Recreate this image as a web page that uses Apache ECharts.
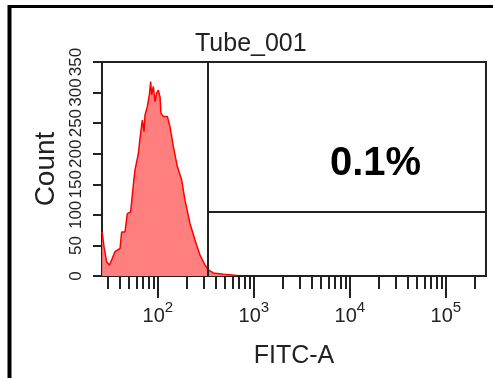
<!DOCTYPE html>
<html>
<head>
<meta charset="utf-8">
<script src="https://cdn.jsdelivr.net/npm/echarts@6/dist/echarts.min.js"></script>
<style>
  html, body { margin: 0; padding: 0; background: #fff; }
  #chart { width: 493px; height: 378px; }
</style>
</head>
<body>
<div id="chart"></div>
<script>
// histogram outline: FITC-A channel value -> count
const fitcValues = [26.3, 27.5, 29.3, 31.3, 33.0, 35.8, 40.4, 42.0, 45.5, 48.1, 52.1, 55.6, 57.8, 62.7,
  65.2, 69.0, 71.8, 73.5, 77.7, 81.6, 84.2, 86.3, 89.8, 93.5, 97.3, 101.2, 105.4, 107.9, 114.1,
  125.6, 133.9, 145.0, 159.7, 177.2, 191.9, 216.3, 243.9, 275.0, 310.0, 335.9, 378.6, 481.5, 670];
const counts = [72, 48, 23, 18, 26, 40, 45, 72, 72, 102, 105, 149, 173, 200,
  225, 255, 236, 263, 277, 296, 318, 296, 310, 285, 299, 304, 293, 266, 261,
  261, 244, 212, 179, 157, 124, 86, 59, 34, 18, 10, 5, 3, 1];

// axis ranges and ticks
const xRange = [26.2144, 262144];
const yRange = [0, 350];
const yStep = 50;
const majorTicks = [100, 1000, 10000, 100000];
const minorTicks = [30, 40, 50, 60, 70, 80, 90,
  200, 300, 400, 500, 600, 700, 800, 900,
  2000, 3000, 4000, 5000, 6000, 7000, 8000, 9000,
  20000, 30000, 40000, 50000, 60000, 70000, 80000, 90000,
  200000];

// interval gate
const gateX = 330;
const gateY = 105;
const gatePercent = '0.1%';

const ink = '#222';
const font = 'Liberation Sans, Arial, sans-serif';

const chart = echarts.init(document.getElementById('chart'));

const tickLine = {color: ink, width: 2};

chart.setOption({
  animation: false,
  title: [
    {
      text: 'Tube_001', left: 195, top: 32, padding: 0,
      textStyle: {fontFamily: font, fontSize: 25, fontWeight: 'normal', color: ink}
    },
    {
      text: gatePercent, left: 330, top: 144, padding: 0,
      textStyle: {fontFamily: font, fontSize: 40, fontWeight: 'bold', color: '#000'}
    }
  ],
  grid: {
    left: 102, top: 62, width: 384, height: 214,
    show: true, borderColor: ink, borderWidth: 2
  },
  xAxis: [
    {
      type: 'log', min: xRange[0], max: xRange[1],
      name: 'FITC-A', nameLocation: 'middle', nameGap: 68,
      nameTextStyle: {fontFamily: font, fontSize: 25, color: ink},
      axisLine: {show: true, lineStyle: tickLine},
      axisTick: {show: true, customValues: minorTicks, length: 13, lineStyle: tickLine},
      axisLabel: {show: false},
      splitLine: {show: false}
    },
    {
      type: 'log', min: xRange[0], max: xRange[1], position: 'bottom',
      axisLine: {show: false},
      axisTick: {show: true, customValues: majorTicks, length: 22, lineStyle: tickLine},
      axisLabel: {
        customValues: majorTicks, margin: 24,
        formatter: v => '{b|10}{s|' + Math.round(Math.log10(v)) + '}',
        rich: {
          b: {fontFamily: font, fontSize: 20, lineHeight: 26, verticalAlign: 'bottom', color: ink},
          s: {fontFamily: font, fontSize: 15, lineHeight: 4, verticalAlign: 'top', color: ink}
        }
      },
      splitLine: {show: false}
    }
  ],
  yAxis: {
    type: 'value', min: yRange[0], max: yRange[1], interval: yStep,
    name: 'Count', nameLocation: 'middle', nameGap: 39,
    nameTextStyle: {fontFamily: font, fontSize: 28, color: ink},
    axisLine: {show: true, lineStyle: tickLine},
    axisTick: {show: true, length: 9, lineStyle: tickLine},
    axisLabel: {rotate: 90, margin: 17, fontFamily: font, fontSize: 17, color: ink},
    splitLine: {show: false}
  },
  series: [{
    type: 'line',
    data: fitcValues.map((v, i) => [v, counts[i]]),
    symbol: 'none',
    lineStyle: {color: '#ff0000', width: 1.5},
    areaStyle: {color: '#ff7f7f', opacity: 1},
    markLine: {
      silent: true, symbol: 'none',
      label: {show: false},
      lineStyle: {color: ink, width: 2, type: 'solid'},
      data: [
        {xAxis: gateX},
        [{coord: [gateX, gateY]}, {coord: [xRange[1], gateY]}]
      ]
    }
  }],
  graphic: [
    {type: 'line', shape: {x1: 8, y1: 6.5, x2: 493, y2: 6.5}, style: {stroke: '#000', lineWidth: 3}},
    {type: 'line', shape: {x1: 9.5, y1: 5, x2: 9.5, y2: 378}, style: {stroke: '#000', lineWidth: 4}}
  ]
});
</script>
</body>
</html>
